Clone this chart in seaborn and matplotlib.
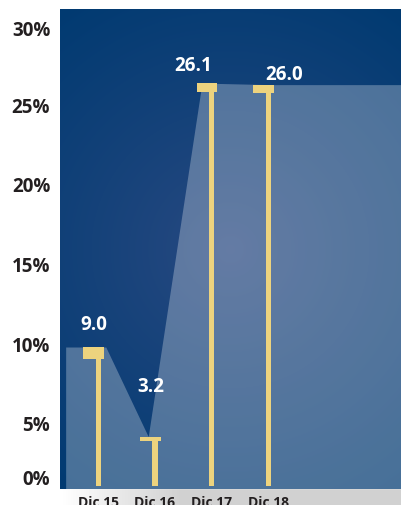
import numpy as np
import pandas as pd
import seaborn as sns
import matplotlib.pyplot as plt
from matplotlib.colors import to_rgb

# data
months = ["Dic 15", "Dic 16", "Dic 17", "Dic 18"]
values = [9.0, 3.2, 26.1, 26.0]
value_labels = ["9.0", "3.2", "26.1", "26.0"]
tick_labels = ["0%", "5%", "10%", "15%", "20%", "25%", "30%"]

df = pd.DataFrame({"month": months, "value": values})

sns.set_style("white")
plt.rcParams["font.family"] = ["Open Sans", "DejaVu Sans"]

yellow = "#edd37e"
dark_text = "#231f20"

fig = plt.figure(figsize=(4.01, 5.06), dpi=100)
ax = fig.add_axes([60 / 401, 16 / 506, 341 / 401, 480 / 506])
ax.set_zorder(2)

xlim = (-0.68, 5.35)
ylim = (-0.2, 30.9)

# radial background gradient (lighter in the middle)
h, w = 480, 341
yy, xx = np.mgrid[0:h, 0:w]
r = np.sqrt((xx - 170) ** 2 + (yy - 240) ** 2) / 300
r = np.clip(r, 0, 1) ** 0.9
c_in = np.array(to_rgb("#2a4a82"))
c_out = np.array(to_rgb("#003a71"))
grad = c_in[None, None, :] * (1 - r[..., None]) + c_out[None, None, :] * r[..., None]
ax.imshow(grad, extent=[xlim[0], xlim[1], ylim[0], ylim[1]], aspect="auto",
          origin="upper", zorder=0)

# light translucent area behind the bars
shift = [0.13, -0.12, -0.17, 0.03]
area_x = [-0.58] + [i + s for i, s in enumerate(shift)] + [xlim[1]]
area_y = [values[0]] + values + [values[-1]]
ax.fill_between(area_x, area_y, ylim[0], color="white", alpha=0.28, lw=0, zorder=1)

# thin poles
sns.barplot(data=df, x="month", y="value", width=0.09, color=yellow,
            saturation=1, linewidth=0, edgecolor=yellow, ax=ax, zorder=3)

# caps on top of each pole
cap_h = [0.8, 0.28, 0.55, 0.55]
vals = np.array(values)
ax.bar(np.arange(len(months)) - 0.08, cap_h, bottom=vals - np.array(cap_h),
       width=0.37, color=yellow, zorder=3, lw=0)

# value labels
offsets = [(-5, 23), (-4, 51), (-18, 18), (16, 11)]
for i, (v, lab) in enumerate(zip(values, value_labels)):
    ax.annotate(lab, xy=(i, v), xytext=offsets[i], textcoords="offset pixels",
                ha="center", va="center", color="white", fontsize=13.5,
                fontweight="bold", zorder=4)

ax.set_xlim(*xlim)
ax.set_ylim(*ylim)
ax.set_yticks([0.6, 4.1, 9.2, 14.4, 19.6, 24.7, 29.7])
ax.set_yticklabels(tick_labels, fontsize=13.5, fontweight="bold", color=dark_text)
ax.set_xticks(range(len(months)))
ax.set_xticklabels(months, fontsize=10, fontweight="bold", color=dark_text)
ax.tick_params(axis="both", length=0)
ax.tick_params(axis="y", pad=7)
ax.tick_params(axis="x", pad=4)
ax.set_xlabel("")
ax.set_ylabel("")
for s in ax.spines.values():
    s.set_visible(False)

# grey band under the plot
band = fig.add_axes([60 / 401, 0, 341 / 401, 16 / 506])
band.set_zorder(0)
g = np.linspace(0, 1, 341)
g = np.clip(g / 0.35, 0, 1)
grey = 1 - 0.18 * g
band.imshow(np.tile(grey, (16, 1)), cmap="gray", vmin=0, vmax=1, aspect="auto")
band.axis("off")

plt.savefig("out.png", dpi=100)
